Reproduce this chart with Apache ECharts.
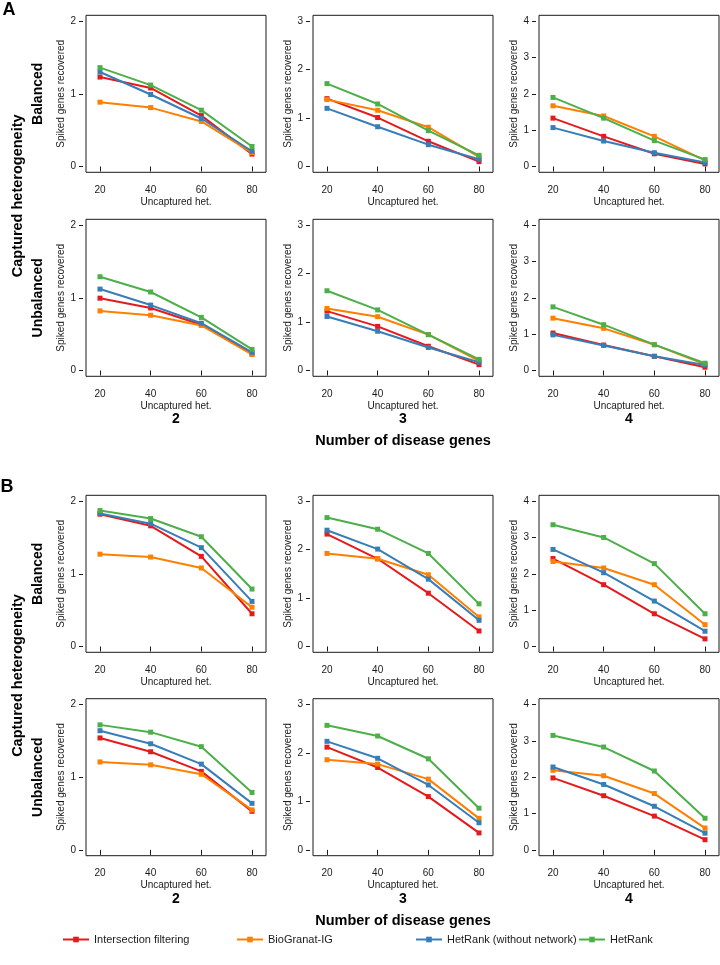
<!DOCTYPE html>
<html><head><meta charset="utf-8">
<script src="https://cdn.jsdelivr.net/npm/echarts@6/dist/echarts.min.js"></script>
<style>html,body{margin:0;padding:0;background:#fff}#c{width:720px;height:965px}</style>
</head><body><div id="c"></div>
<script>
const xValues = [20, 40, 60, 80];
const methodNames = ['Intersection filtering', 'BioGranat-IG', 'HetRank (without network)', 'HetRank'];
const diseaseGeneCounts = ['2', '3', '4'];
const yTickValues = [[0, 1, 2], [0, 1, 2, 3], [0, 1, 2, 3, 4]];
const rowLabels = ['Balanced', 'Unbalanced'];
const sectionLabels = ['A', 'B'];

// each array: one row per number of disease genes (2, 3, 4), values at uncaptured het. 20,40,60,80
// Section A, balanced
const A_bal_intersection = [[1.23, 1.08, 0.70, 0.17], [1.40, 1.01, 0.52, 0.10], [1.33, 0.83, 0.35, 0.07]];
const A_bal_biogranat    = [[0.885, 0.81, 0.62, 0.19], [1.38, 1.16, 0.81, 0.20], [1.67, 1.39, 0.83, 0.17]];
const A_bal_hetrankNoNet = [[1.30, 0.99, 0.66, 0.21], [1.20, 0.82, 0.45, 0.15], [1.07, 0.70, 0.38, 0.11]];
const A_bal_hetrank      = [[1.36, 1.12, 0.775, 0.275], [1.71, 1.29, 0.74, 0.23], [1.90, 1.33, 0.71, 0.19]];
// Section A, unbalanced
const A_unb_intersection = [[0.995, 0.86, 0.63, 0.23], [1.225, 0.91, 0.50, 0.12], [1.03, 0.70, 0.39, 0.09]];
const A_unb_biogranat    = [[0.82, 0.76, 0.62, 0.22], [1.28, 1.11, 0.74, 0.20], [1.44, 1.16, 0.71, 0.17]];
const A_unb_hetrankNoNet = [[1.12, 0.90, 0.65, 0.25], [1.115, 0.81, 0.475, 0.17], [0.98, 0.69, 0.39, 0.15]];
const A_unb_hetrank      = [[1.29, 1.08, 0.73, 0.29], [1.645, 1.25, 0.74, 0.23], [1.75, 1.26, 0.71, 0.20]];
// Section B, balanced
const B_bal_intersection = [[1.82, 1.66, 1.24, 0.45], [2.32, 1.81, 1.10, 0.32], [2.42, 1.70, 0.90, 0.21]];
const B_bal_biogranat    = [[1.27, 1.23, 1.08, 0.54], [1.92, 1.81, 1.48, 0.61], [2.34, 2.16, 1.70, 0.60]];
const B_bal_hetrankNoNet = [[1.83, 1.69, 1.36, 0.62], [2.40, 2.01, 1.39, 0.54], [2.67, 2.03, 1.25, 0.42]];
const B_bal_hetrank      = [[1.87, 1.76, 1.51, 0.79], [2.66, 2.42, 1.92, 0.88], [3.35, 3.00, 2.28, 0.90]];
// Section B, unbalanced
const B_unb_intersection = [[1.54, 1.35, 1.08, 0.53], [2.12, 1.70, 1.10, 0.35], [1.98, 1.49, 0.93, 0.28]];
const B_unb_biogranat    = [[1.21, 1.17, 1.04, 0.55], [1.86, 1.77, 1.46, 0.65], [2.19, 2.04, 1.55, 0.60]];
const B_unb_hetrankNoNet = [[1.64, 1.46, 1.18, 0.64], [2.24, 1.89, 1.34, 0.56], [2.28, 1.80, 1.20, 0.46]];
const B_unb_hetrank      = [[1.72, 1.62, 1.42, 0.79], [2.57, 2.35, 1.88, 0.86], [3.15, 2.83, 2.17, 0.87]];

// ---------- layout / style ----------
const methodColors = ['#e41a1c', '#ff7f00', '#377eb8', '#4daf4a'];
const FONT = 'Liberation Sans, Arial, sans-serif';
const TXT = '#1a1a1a';
const colLeft = [86, 313, 539];
const gridW = 180, gridH = 157;
const rowTop = [15.3, 219.3, 495.3, 698.7];
const rowsData = [
  [A_bal_intersection, A_bal_biogranat, A_bal_hetrankNoNet, A_bal_hetrank],
  [A_unb_intersection, A_unb_biogranat, A_unb_hetrankNoNet, A_unb_hetrank],
  [B_bal_intersection, B_bal_biogranat, B_bal_hetrankNoNet, B_bal_hetrank],
  [B_unb_intersection, B_unb_biogranat, B_unb_hetrankNoNet, B_unb_hetrank]
];

const grids = [], xAxes = [], yAxes = [], series = [];
let idx = 0;
for (let r = 0; r < 4; r++) {
  for (let c = 0; c < 3; c++) {
    const yMax = yTickValues[c][yTickValues[c].length - 1];
    grids.push({left: colLeft[c], top: rowTop[r], width: gridW, height: gridH, show: true,
      borderColor: '#1a1a1a', borderWidth: 1, backgroundColor: 'transparent'});
    xAxes.push({gridIndex: idx, type: 'value', min: 14.48, max: 85.52, offset: 4,
      axisLine: {show: false},
      axisTick: {show: true, length: 5, customValues: xValues, lineStyle: {color: '#1a1a1a', width: 1}},
      axisLabel: {customValues: xValues, fontSize: 10, margin: 9, color: TXT, fontFamily: FONT},
      splitLine: {show: false},
      name: 'Uncaptured het.', nameLocation: 'middle', nameGap: 21,
      nameTextStyle: {fontSize: 10, color: TXT, fontFamily: FONT}});
    yAxes.push({gridIndex: idx, type: 'value', min: -0.04 * yMax, max: 1.04 * yMax, offset: 3,
      axisLine: {show: false},
      axisTick: {show: true, length: 4, customValues: yTickValues[c], lineStyle: {color: '#1a1a1a', width: 1}},
      axisLabel: {customValues: yTickValues[c], fontSize: 10, margin: 7, color: TXT, fontFamily: FONT},
      splitLine: {show: false},
      name: 'Spiked genes recovered', nameLocation: 'middle', nameGap: 17,
      nameTextStyle: {fontSize: 10, color: TXT, fontFamily: FONT}});
    for (let m = 0; m < 4; m++) {
      const vals = rowsData[r][m][c];
      series.push({type: 'line', name: methodNames[m], xAxisIndex: idx, yAxisIndex: idx,
        data: xValues.map((x, i) => [x, vals[i]]),
        symbol: 'rect', symbolSize: 5, showSymbol: true,
        lineStyle: {width: 2, color: methodColors[m]}, itemStyle: {color: methodColors[m]},
        silent: true, z: 2 + m});
    }
    idx++;
  }
}

const graphics = [];
function txt(text, x, y, size, bold, rot) {
  graphics.push({type: 'text', x: x, y: y, rotation: rot || 0,
    style: {text: text, fontSize: size, fontWeight: bold ? 'bold' : 'normal', fontFamily: FONT,
      fill: '#000', align: 'center', verticalAlign: 'middle'}});
}
const sectionLabelY = [10, 487];
const colLabelY = [419, 899];
const xTitleY = [441, 921];
for (let s = 0; s < 2; s++) {
  txt(sectionLabels[s], s === 0 ? 9 : 7, sectionLabelY[s], 18, true);
  const t0 = rowTop[s * 2], t1 = rowTop[s * 2 + 1];
  txt(rowLabels[0], 38, t0 + gridH / 2, 14, true, Math.PI / 2);
  txt(rowLabels[1], 38, t1 + gridH / 2, 14, true, Math.PI / 2);
  txt('Captured heterogeneity', 18, (t0 + t1 + gridH) / 2, 14.5, true, Math.PI / 2);
  for (let c = 0; c < 3; c++) txt(diseaseGeneCounts[c], colLeft[c] + gridW / 2, colLabelY[s], 14, true);
  txt('Number of disease genes', 403, xTitleY[s], 14.5, true);
}

const legendLeft = [62, 236, 415, 578];
const legends = methodNames.map((n, i) => ({data: [n], left: legendLeft[i], top: 934, padding: 0,
  itemWidth: 26, itemHeight: 7, selectedMode: false,
  textStyle: {fontSize: 11, color: TXT, fontFamily: FONT}}));

const chart = echarts.init(document.getElementById('c'), null, {renderer: 'canvas'});
chart.setOption({
  animation: false,
  backgroundColor: '#fff',
  grid: grids, xAxis: xAxes, yAxis: yAxes, series: series,
  legend: legends, graphic: graphics
});
</script></body></html>
